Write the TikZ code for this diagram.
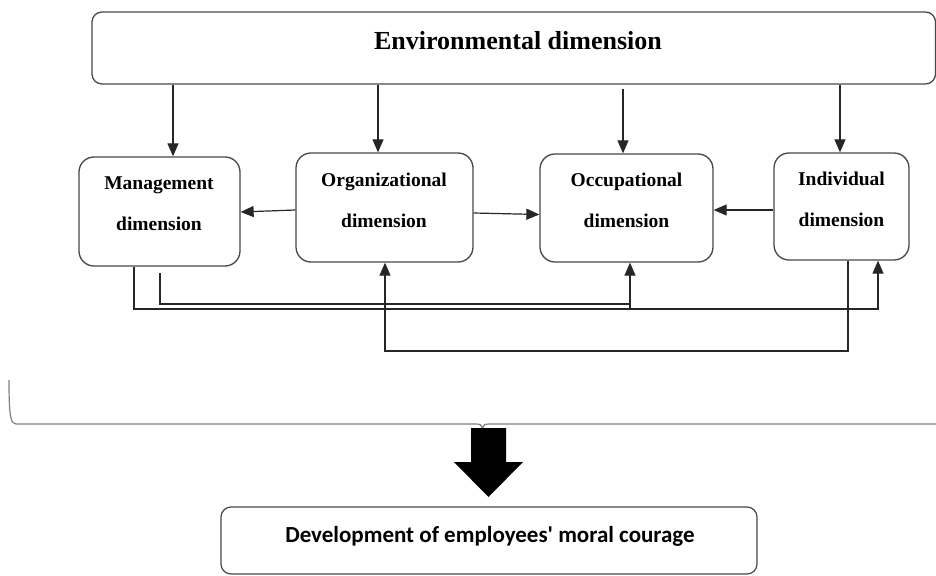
\documentclass[tikz,border=0pt]{standalone}
\usepackage{fontspec}
\setmainfont{Liberation Serif}
\newfontfamily\carlitofont{Carlito}
\usetikzlibrary{arrows.meta}
\tikzset{
  dimbox/.style={draw=black!72, line width=1.3pt, rounded corners=15pt, minimum width=#1, inner sep=0pt},
  dimtext/.style={font=\bfseries\fontsize{19.5}{41}\selectfont, align=center, inner sep=0pt},
  conn/.style={draw=black!85, line width=1.2pt},
  arr/.style={conn, -{Triangle[length=13pt,width=11pt]}},
  bracestyle/.style={draw=black!50, line width=1.2pt},
}
\begin{document}
\begin{tikzpicture}[x=1pt, y=-1pt]
\useasboundingbox (0,0) rectangle (936,575);
\clip (0,0) rectangle (936,575);
% top box
\node[dimbox=843.5pt, minimum height=72pt, rounded corners=10pt] (env) at (513.75,48) {};
\node[font=\bfseries\fontsize{26}{30}\selectfont, anchor=base, inner sep=0pt] (envT) at (518,50) {Environmental dimension};
% dimension boxes
\node[dimbox=161pt, minimum height=109pt] (mgmt) at (159.5,211.5) {};
\node[dimtext] (mgmtT) at (159,203.75) {Management\\dimension};
\node[dimbox=177pt, minimum height=109pt] (org) at (384.5,207.5) {};
\node[dimtext] (orgT) at (384,200.75) {Organizational\\dimension};
\node[dimbox=173pt, minimum height=108pt] (occ) at (626.5,208) {};
\node[dimtext] (occT) at (626.5,200.75) {Occupational\\dimension};
\node[dimbox=135pt, minimum height=107pt] (ind) at (841.5,206.5) {};
\node[dimtext] (indT) at (841.5,199.5) {Individual\\dimension};
% bottom box
\node[dimbox=536pt, minimum height=67pt, rounded corners=10pt, line width=1.2pt] (dev) at (489,540.5) {};
\node[font=\carlitofont\bfseries\fontsize{23}{28}\selectfont, anchor=base, inner sep=0pt] (devT) at (490,542) {Development of employees' moral courage};
% top arrows
\path ([xshift=13.5pt]mgmt.north) coordinate (m1);
\path ([xshift=-6.5pt]org.north) coordinate (o1);
\path ([xshift=-3.5pt]occ.north) coordinate (c1);
\path ([xshift=-1.5pt]ind.north) coordinate (i1);
\draw[arr] (m1 |- env.south) -- (m1);
\draw[arr] (o1 |- env.south) -- (o1);
\draw[arr] ([yshift=-4pt]c1 |- env.south) -- (c1);
\draw[arr] (i1 |- env.south) -- (i1);
% horizontal arrows
\draw[arr] ([yshift=-2.5pt]org.west) -- ([yshift=-0.5pt]mgmt.east);
\draw[arr] ([yshift=-5.5pt]org.east) -- ([yshift=-6.5pt]occ.west);
\draw[arr] ([yshift=-3.5pt]ind.west) -- ([yshift=-2pt]occ.east);
% bottom feedback lines
\coordinate (busA) at (0,309);
\coordinate (busB) at (0,304);
\coordinate (busC) at (0,351);
\path ([xshift=-25.5pt]mgmt.south) coordinate (a0);
\path ([xshift=36.5pt]ind.south) coordinate (a3);
\draw[arr] (a0) -- (a0 |- busA) -- (a3 |- busA) -- (a3);
\coordinate (b0) at (160,273);
\path ([xshift=3.5pt]occ.south) coordinate (b3);
\draw[arr] (b0) -- (b0 |- busB) -- (b3 |- busB) -- (b3);
\draw[conn] (b3 |- busA) -- (b3 |- busB);
\path ([xshift=6.5pt]ind.south) coordinate (c0);
\path ([xshift=0.5pt]org.south) coordinate (o2);
\draw[arr] (c0) -- (c0 |- busC) -- (o2 |- busC) -- (o2);
% brace
\draw[bracestyle] (9,380) .. controls (9,418) and (11,424) .. (16,424) -- (476,424)
  .. controls (480,424) and (482,425) .. (482.5,428)
  .. controls (483,425) and (485,424) .. (489,424) -- (940,424);
% big arrow
\fill[black] (471,428) -- (506,428) -- (506,462) -- (523,462) -- (488.5,497) -- (454,462) -- (471,462) -- cycle;
\end{tikzpicture}
\end{document}
